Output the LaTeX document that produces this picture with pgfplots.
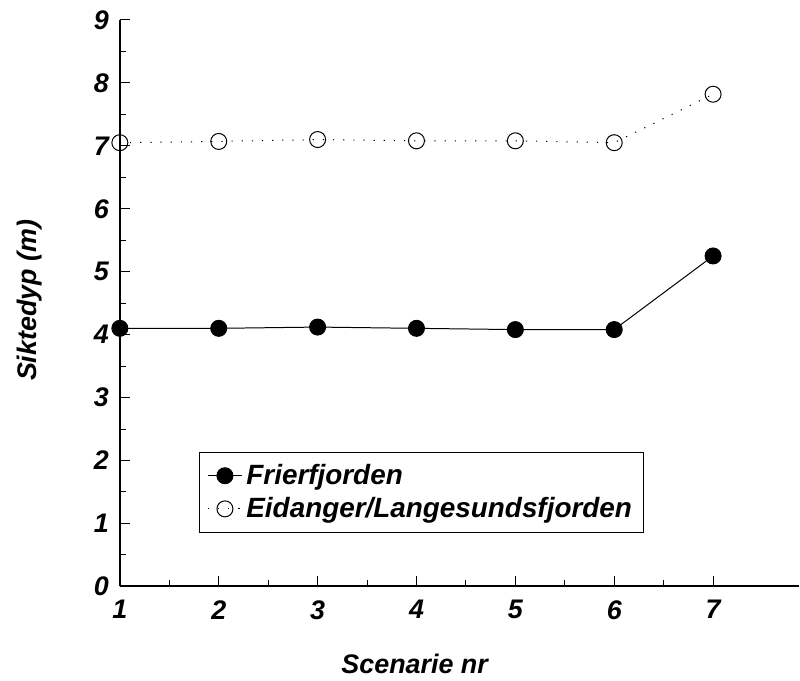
\documentclass[border=0pt]{standalone}
\usepackage{fontspec}
\setmainfont{Liberation Sans}
\usepackage{pgfplots}
\pgfplotsset{compat=1.18}

% 1 px of the reference = 0.5bp
\begin{document}
\begin{tikzpicture}
\begin{axis}[
    scale only axis,
    width=340bp, height=283.5bp,
    xmin=1, xmax=7.87,
    ymin=0, ymax=9,
    xtick={1,...,7},
    ytick={0,...,9},
    minor x tick num=1,
    minor y tick num=1,
    axis lines=left,
    axis line style={-, line width=0.9pt},
    tick align=inside,
    major tick length=5bp,
    minor tick length=3bp,
    tick style={black, line width=0.5pt},
    /pgf/number format/assume math mode=true,
    ticklabel style={font=\fontsize{13.5}{15}\selectfont\bfseries\itshape},
    xticklabel style={yshift=-3.5bp},
    yticklabel style={anchor=east, xshift=-2bp},
    xlabel={Scenarie nr},
    ylabel={Siktedyp (m)},
    label style={font=\fontsize{13.5}{15}\selectfont\bfseries\itshape},
    xlabel style={at={(rel axis cs:0.434,0)}, anchor=center, yshift=-39bp},
    ylabel style={at={(rel axis cs:0,0.505)}, anchor=center, rotate=0, yshift=45bp},
    clip=false,
    legend style={
        at={(axis cs:1.8,2.14)}, anchor=north west,
        draw=black, line width=0.5pt,
        font=\fontsize{14}{16}\selectfont\bfseries\itshape,
        row sep=1bp, inner sep=4bp,
        legend cell align=left
    },
]
\addplot[black, line width=0.5pt, mark=*, mark size=4bp,
    mark options={solid, fill=black}]
    coordinates {(1,4.1) (2,4.1) (3,4.12) (4,4.1) (5,4.08) (6,4.08) (7,5.25)};
\addlegendentry{Frierfjorden}
\addplot[black, line width=0.5pt, dash pattern=on 0.6pt off 4.5pt, mark=o, mark size=4bp,
    mark options={solid, fill=white, line width=0.5pt}]
    coordinates {(1,7.05) (2,7.07) (3,7.1) (4,7.08) (5,7.08) (6,7.05) (7,7.82)};
\addlegendentry{Eidanger/Langesundsfjorden}
% fix the picture's frame to the reference's margins
\path (rel axis cs:0,1) ++(-60bp,10bp) coordinate (tl);
\path (rel axis cs:1,0) ++(0,-46.5bp) coordinate (br);
\end{axis}
\useasboundingbox (tl) rectangle (br);
\end{tikzpicture}
\end{document}
